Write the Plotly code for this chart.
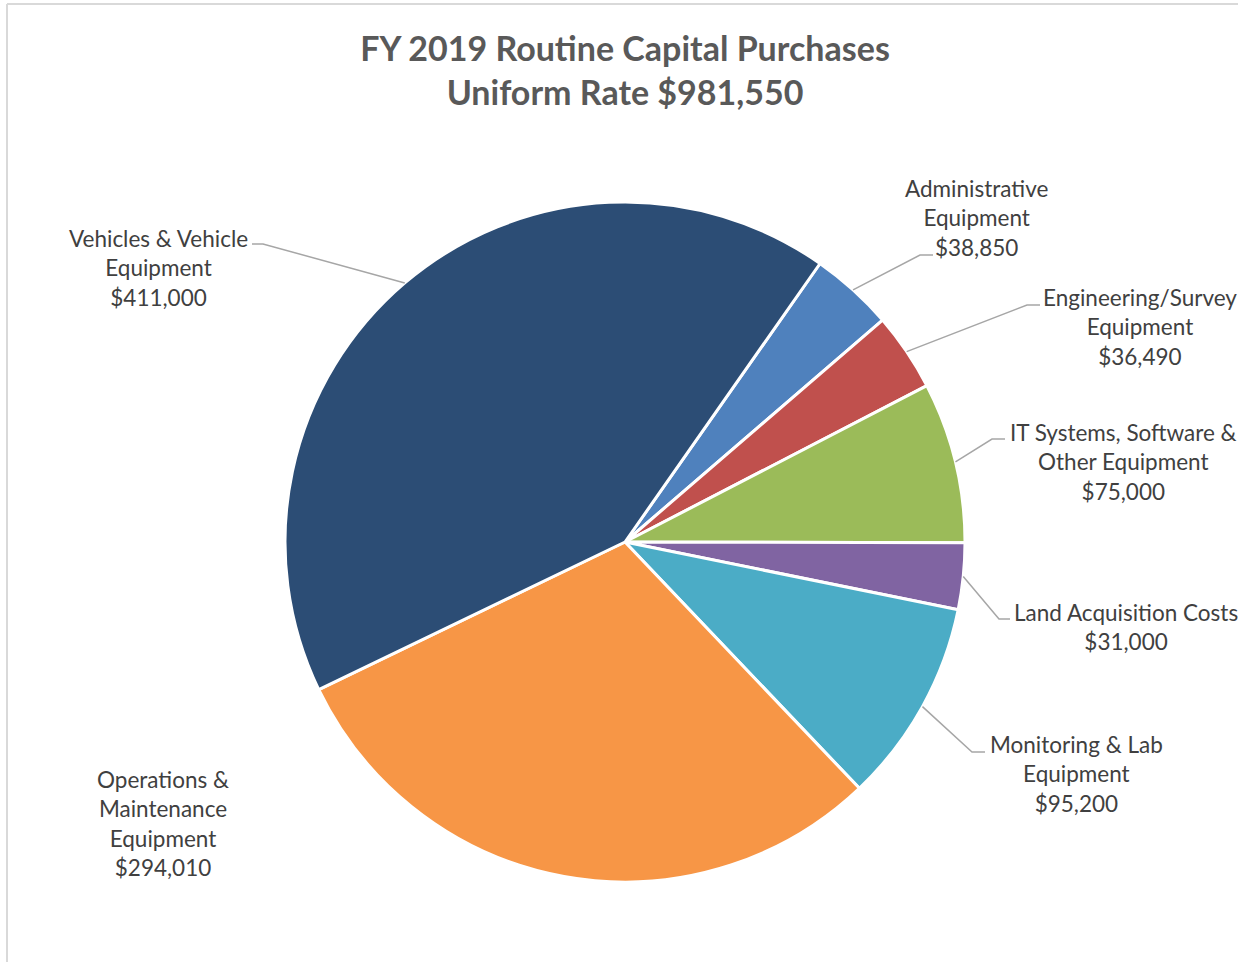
import math
import plotly.graph_objects as go

# ---- data ----
categories = [
    "Administrative Equipment",
    "Engineering/Survey Equipment",
    "IT Systems, Software & Other Equipment",
    "Land Acquisition Costs",
    "Monitoring & Lab Equipment",
    "Operations & Maintenance Equipment",
    "Vehicles & Vehicle Equipment",
]
values = [38850, 36490, 75000, 31000, 95200, 294010, 411000]
label_lines = [
    ["Administrative", "Equipment"],
    ["Engineering/Survey", "Equipment"],
    ["IT Systems, Software &", "Other Equipment"],
    ["Land Acquisition Costs"],
    ["Monitoring & Lab", "Equipment"],
    ["Operations &", "Maintenance", "Equipment"],
    ["Vehicles & Vehicle", "Equipment"],
]
colors = ["#4F81BD", "#C0504D", "#9BBB59", "#8064A2", "#4BACC6", "#F79646", "#2C4D75"]
title_lines = ["FY 2019 Routine Capital Purchases", "Uniform Rate $981,550"]

# ---- layout (pixels) ----
W, H = 1238, 962
CX, CY, R = 625, 542, 340
ROTATION = 35
FONT = "Lato"
TEXT_COLOR = "#404040"
LEADER_COLOR = "#A6A6A6"

label_pos = [(976, 218), (1140, 327), (1123, 462), (1126, 627), (1076, 774), (163, 823), (158, 268)]
leader_pts = [
    [(920, 255), (933, 255)],
    [(1027, 305), (1040, 305)],
    [(992, 439), (1005, 439)],
    [(999, 619), (1010, 619)],
    [(972, 752), (985, 752)],
    None,
    [(263, 244), (252, 244)],
]


def px(x):
    return x / W


def py(y):
    return 1 - y / H


fig = go.Figure()
fig.add_trace(go.Pie(
    labels=categories,
    values=values,
    sort=False,
    direction="clockwise",
    rotation=ROTATION,
    marker=dict(colors=colors, line=dict(color="white", width=3)),
    textinfo="none",
    hoverinfo="label+value",
    showlegend=False,
    domain=dict(x=[px(CX - R), px(CX + R)], y=[py(CY + R), py(CY - R)]),
))

total = sum(values)
cum = 0
shapes = []
annotations = []
for i, v in enumerate(values):
    mid = ROTATION + 360 * (cum + v / 2) / total
    cum += v
    a = math.radians(mid)
    ex, ey = CX + R * math.sin(a), CY - R * math.cos(a)
    if leader_pts[i] is not None:
        pts = [(ex, ey)] + leader_pts[i]
        path = "M " + " L ".join(f"{px(x)},{py(y)}" for x, y in pts)
        shapes.append(dict(type="path", xref="paper", yref="paper", path=path,
                           line=dict(color=LEADER_COLOR, width=1.5)))
    txt = "<br>".join(label_lines[i] + [f"${v:,.0f}"])
    lx, ly = label_pos[i]
    annotations.append(dict(x=px(lx), y=py(ly), xref="paper", yref="paper",
                            text=txt, showarrow=False, align="center",
                            xanchor="center", yanchor="middle",
                            font=dict(family=FONT, size=22.5, color=TEXT_COLOR)))

# chart-area border (left and top edges visible)
shapes.append(dict(type="line", xref="paper", yref="paper", x0=px(7), x1=px(1300),
                   y0=py(4), y1=py(4), line=dict(color="#D9D9D9", width=2)))
shapes.append(dict(type="line", xref="paper", yref="paper", x0=px(7), x1=px(7),
                   y0=py(4), y1=py(1100), line=dict(color="#D9D9D9", width=2)))

fig.update_layout(
    width=W, height=H,
    margin=dict(l=0, r=0, t=0, b=0),
    paper_bgcolor="white",
    plot_bgcolor="white",
    title=dict(text="<b>" + "<br>".join(title_lines) + "</b>",
               x=px(625), xanchor="center", y=py(61), yanchor="middle",
               font=dict(family=FONT, size=34, color="#595959")),
    shapes=shapes,
    annotations=annotations,
)

fig.write_html("out.html",
               config={"displayModeBar": False},
               post_script="document.body.style.margin='0';document.body.style.overflow='hidden';")
